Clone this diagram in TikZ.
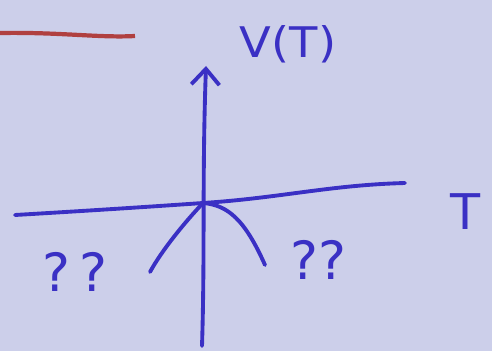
\documentclass[tikz,border=0pt]{standalone}
\usepackage{fontspec}
\setmainfont{DejaVu Sans}
\usetikzlibrary{arrows.meta}
\definecolor{bg}{RGB}{204,207,234}
\definecolor{ink}{RGB}{58,48,196}
\definecolor{redink}{RGB}{176,64,64}
\tikzset{
  pen/.style={draw=ink, line width=2.2pt, line cap=round, line join=round},
  lbl/.style={text=ink, font=\fontsize{24}{24}\selectfont, inner sep=0pt},
  qlbl/.style={text=ink, font=\fontsize{30}{30}\selectfont, inner sep=0pt}
}
\begin{document}
\begin{tikzpicture}[x=0.02cm, y=-0.02cm]
\fill[bg] (0,0) rectangle (492,351);
\useasboundingbox (0,0) rectangle (492,351);
% red stroke
\draw[draw=redink, line width=2.4pt] (0,33) .. controls (60,32) and (100,38) .. (135,36);
% axes
\coordinate (vbot) at (202,346);
\coordinate (vtop) at (206,66);
\coordinate (hl) at (15,215);
\coordinate (hr) at (405,183);
\coordinate (o) at (203,203);
\draw[pen, -{Straight Barb[length=9pt,width=16pt,line width=2.2pt]}] (vbot) .. controls (205,250) and (202,180) .. (vtop);
\draw[pen] (hl) .. controls (100,210) and (160,206) .. (o) .. controls (280,198) and (330,185) .. (hr);
% curves
\coordinate (lc) at (150,272);
\coordinate (rc) at (265,265);
\draw[pen] (lc) .. controls (162,250) and (185,222) .. (o);
\draw[pen] (o) .. controls (228,205) and (245,220) .. (rc);
% labels
\node[lbl, xscale=1.1] (vt) at (288,44) {V(T)};
\node[lbl, font=\fontsize{28}{28}\selectfont] (t) at (466,212) {T};
\node[qlbl] (ql) at (75,272) {?\,?};
\node[qlbl] (qr) at (318,260) {??};
\end{tikzpicture}
\end{document}
